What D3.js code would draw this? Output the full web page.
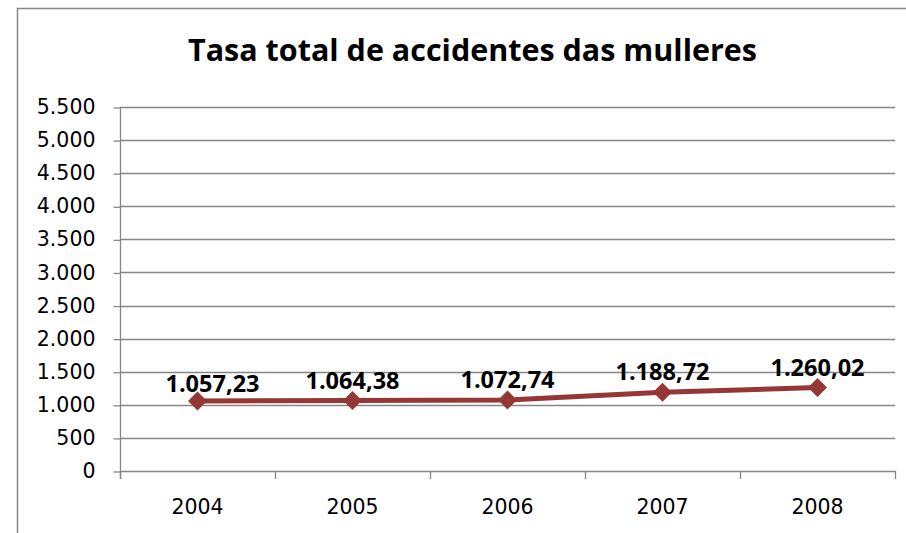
<!DOCTYPE html>
<html>
<head>
<meta charset="utf-8">
<script src="https://cdn.jsdelivr.net/npm/d3@7"></script>
<style>
  html, body { margin: 0; padding: 0; background: #fff; }
  svg { display: block; }
  text { fill: #000; }
</style>
</head>
<body>
<svg id="chart" width="906" height="533"></svg>
<script>
const title = "Tasa total de accidentes das mulleres";
const years = ["2004", "2005", "2006", "2007", "2008"];
const values = [1057.23, 1064.38, 1072.74, 1188.72, 1260.02];
const valueLabels = ["1.057,23", "1.064,38", "1.072,74", "1.188,72", "1.260,02"];
const yTicks = [0, 500, 1000, 1500, 2000, 2500, 3000, 3500, 4000, 4500, 5000, 5500];
const yTickLabels = ["0", "500", "1.000", "1.500", "2.000", "2.500", "3.000", "3.500", "4.000", "4.500", "5.000", "5.500"];

(function () {
const svg = d3.select("#chart");
const W = 906, H = 533;
const pLeft = 120, pRight = 895, pTop = 107, pBottom = 471;
const gridColor = "#868686";
const lineColor = "#953735";
const tickFont = "'DejaVu Sans', sans-serif";
const boldFont = "'Open Sans', 'Liberation Sans', sans-serif";

svg.append("rect").attr("width", W).attr("height", H).attr("fill", "#fff");

// outer frame (cropped on right/bottom)
svg.append("rect")
  .attr("x", 17.5).attr("y", 8.5).attr("width", 920).attr("height", 560)
  .attr("fill", "none").attr("stroke", gridColor).attr("stroke-width", 1.5);

// title: sized by cap height, squeezed to the reference width
const tg = svg.append("g").attr("transform", "translate(472.5,61)");
const t = tg.append("text")
  .attr("x", 0).attr("y", 0)
  .attr("text-anchor", "middle")
  .attr("font-family", boldFont)
  .attr("font-weight", "bold")
  .attr("font-size", 29.5)
  .text(title);
const tw = t.node().getComputedTextLength();
t.attr("transform", `scale(${569 / tw},1)`);

const x = d3.scaleBand().domain(years).range([pLeft, pRight]).padding(0);
const y = d3.scaleLinear().domain([0, 5500]).range([pBottom, pTop]);

// gridlines
svg.append("g")
  .selectAll("line")
  .data(yTicks)
  .join("line")
  .attr("x1", pLeft).attr("x2", pRight)
  .attr("y1", d => Math.round(y(d)) + 0.5).attr("y2", d => Math.round(y(d)) + 0.5)
  .attr("stroke", gridColor).attr("stroke-width", 1.3);

// y axis
const yAxis = d3.axisLeft(y)
  .tickValues(yTicks)
  .tickFormat((d, i) => yTickLabels[i])
  .tickSize(7)
  .tickPadding(18);
const gy = svg.append("g").attr("transform", `translate(${pLeft + 0.5},0)`).call(yAxis);
gy.select(".domain").attr("stroke", gridColor).attr("stroke-width", 1.3)
  .attr("d", `M0,${pTop}V${pBottom + 8}`);
gy.selectAll(".tick line").attr("stroke", gridColor).attr("stroke-width", 1.3)
  .attr("transform", "translate(0,0.5)");
gy.selectAll(".tick text")
  .attr("font-size", 20.5)
  .attr("font-family", tickFont)
  .attr("fill", "#000");

// x axis ticks at category edges
const catEdges = years.map(d => x(d)).concat([pRight]);
svg.append("g").selectAll("line")
  .data(catEdges)
  .join("line")
  .attr("x1", d => Math.round(d) + 0.5).attr("x2", d => Math.round(d) + 0.5)
  .attr("y1", pBottom).attr("y2", pBottom + 8)
  .attr("stroke", gridColor).attr("stroke-width", 1.3);

svg.append("g").selectAll("text")
  .data(years)
  .join("text")
  .attr("x", d => x(d) + x.bandwidth() / 2)
  .attr("y", 514)
  .attr("text-anchor", "middle")
  .attr("font-family", tickFont)
  .attr("font-size", 20.5)
  .text(d => d);

// line
const pts = years.map((d, i) => [x(d) + x.bandwidth() / 2, y(values[i])]);
svg.append("path")
  .attr("d", d3.line()(pts))
  .attr("fill", "none")
  .attr("stroke", lineColor)
  .attr("stroke-width", 5)
  .attr("stroke-linejoin", "round");

// diamond markers
svg.append("g").selectAll("path")
  .data(pts)
  .join("path")
  .attr("transform", d => `translate(${d[0]},${d[1]})`)
  .attr("d", d3.symbol().type(d3.symbolDiamond2).size(230))
  .attr("fill", lineColor);

// data labels (first label nudged right as in the reference)
svg.append("g").selectAll("text")
  .data(pts)
  .join("text")
  .attr("x", (d, i) => d[0] + (i === 0 ? 15 : 0))
  .attr("y", (d, i) => d[1] - (i === 0 ? 9 : 12))
  .attr("text-anchor", "middle")
  .attr("font-family", boldFont)
  .attr("font-weight", "bold")
  .attr("font-size", 23.5)
  .text((d, i) => valueLabels[i]);
})();
</script>
</body>
</html>
